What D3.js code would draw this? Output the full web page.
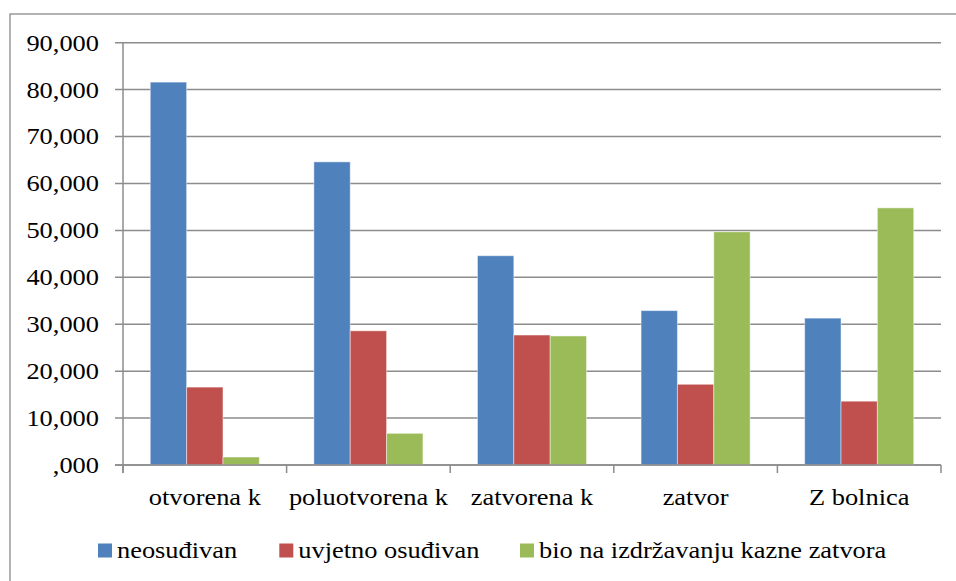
<!DOCTYPE html>
<html>
<head>
<meta charset="utf-8">
<script src="https://cdn.jsdelivr.net/npm/d3@7"></script>
</head>
<body style="margin:0;padding:0;background:#ffffff">
<svg id="chart" width="956" height="581" style="display:block"></svg>
<script>
const categories = ["otvorena k", "poluotvorena k", "zatvorena k", "zatvor", "Z bolnica"];
const seriesNames = ["neosuđivan", "uvjetno osuđivan", "bio na izdržavanju kazne zatvora"];
const neosudivan = [81.6, 64.6, 44.6, 32.9, 31.3];
const uvjetnoOsudivan = [16.6, 28.6, 27.7, 17.2, 13.6];
const bioNaIzdrzavanju = [1.7, 6.75, 27.5, 49.7, 54.8];
const yTicks = [0, 10, 20, 30, 40, 50, 60, 70, 80, 90];
const yTickLabels = [",000", "10,000", "20,000", "30,000", "40,000", "50,000", "60,000", "70,000", "80,000", "90,000"];
const colors = ["#4F81BD", "#C0504D", "#9BBB59"];

const seriesValues = [neosudivan, uvjetnoOsudivan, bioNaIzdrzavanju];
const svg = d3.select("#chart");
const SX = 1.1; // horizontal stretch of text in the reference
const FONT = "Liberation Serif";

function styleText(sel) {
  return sel.style("font-family", FONT).style("font-size", "24px").attr("fill", "#000");
}

const plotL = 123, plotR = 941, plotT = 42.7, plotB = 465;

// outer chart border (only left and top visible)
svg.append("rect").attr("x", 10).attr("y", 14).attr("width", 1000).attr("height", 1000)
  .attr("fill", "none").attr("stroke", "#8a8a8a").attr("stroke-width", 1.3);

const y = d3.scaleLinear().domain([0, 90]).range([plotB, plotT]);
const x0 = d3.scaleBand().domain(categories).range([plotL, plotR]).padding(0);
const x1 = d3.scaleBand().domain(d3.range(seriesNames.length)).range([0, x0.bandwidth()])
  .paddingInner(0).paddingOuter(0.75);

// gridlines
svg.append("g").selectAll("line").data(yTicks).join("line")
  .attr("x1", plotL - 8).attr("x2", plotR)
  .attr("y1", d => y(d)).attr("y2", d => y(d))
  .attr("stroke", "#8c8c8c").attr("stroke-width", 1.5);

// y labels
styleText(svg.append("g").selectAll("text").data(yTicks).join("text"))
  .attr("text-anchor", "end")
  .attr("dy", "0.33em")
  .attr("transform", d => `translate(99,${y(d)}) scale(${SX},1)`)
  .text((d, i) => yTickLabels[i]);

// bars
const rows = categories.map((c, i) => ({ c, vals: seriesValues.map(s => s[i]) }));
const groups = svg.append("g").selectAll("g").data(rows).join("g")
  .attr("transform", d => `translate(${x0(d.c)},0)`);
groups.selectAll("rect").data(d => d.vals.map((v, k) => ({ v, k }))).join("rect")
  .attr("x", d => x1(d.k))
  .attr("width", x1.bandwidth())
  .attr("y", d => y(d.v))
  .attr("height", d => y(0) - y(d.v))
  .attr("fill", d => colors[d.k])
  .attr("stroke", "rgba(255,255,255,0.45)")
  .attr("stroke-width", 1);

// y axis line
svg.append("line").attr("x1", plotL).attr("x2", plotL).attr("y1", plotT).attr("y2", plotB + 8)
  .attr("stroke", "#8c8c8c").attr("stroke-width", 1.5);
// x axis line
svg.append("line").attr("x1", plotL - 8).attr("x2", plotR).attr("y1", plotB).attr("y2", plotB)
  .attr("stroke", "#8c8c8c").attr("stroke-width", 1.5);
// x ticks at category boundaries
const bounds = categories.map(c => x0(c)).concat([plotR]);
svg.append("g").selectAll("line").data(bounds).join("line")
  .attr("x1", d => d).attr("x2", d => d).attr("y1", plotB).attr("y2", plotB + 8)
  .attr("stroke", "#8c8c8c").attr("stroke-width", 1.5);

// category labels
styleText(svg.append("g").selectAll("text").data(categories).join("text"))
  .attr("text-anchor", "middle")
  .attr("transform", d => `translate(${x0(d) + x0.bandwidth() / 2},505) scale(${SX},1)`)
  .text(d => d);

// legend
const legendX = [98, 279.3, 520];
const lg = svg.append("g").selectAll("g").data(seriesNames).join("g")
  .attr("transform", (d, i) => `translate(${legendX[i]},0)`);
lg.append("rect").attr("x", 0).attr("y", 543.5).attr("width", 14).attr("height", 14)
  .attr("fill", (d, i) => colors[i]);
styleText(lg.append("text"))
  .attr("transform", `translate(19,557.7) scale(${SX},1)`)
  .text(d => d);
</script>
</body>
</html>
